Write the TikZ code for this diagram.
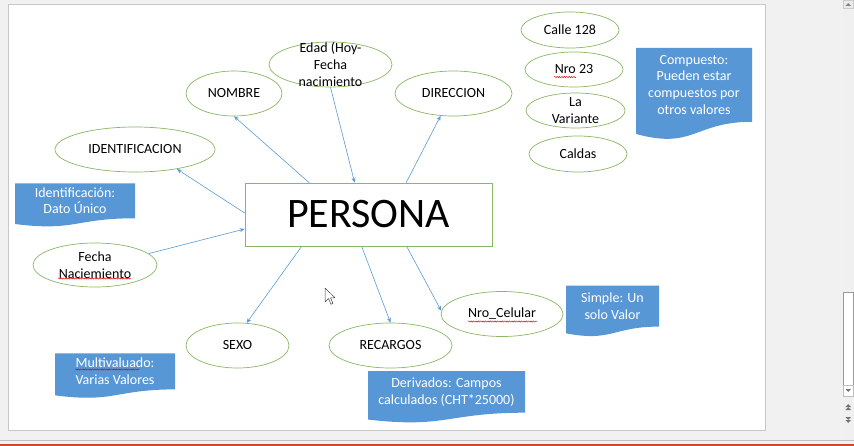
\documentclass[tikz,border=0pt]{standalone}
\usepackage{fontspec}
\setmainfont{Carlito}
\usetikzlibrary{shapes.geometric,arrows.meta,calc,decorations.pathmorphing}
\definecolor{elgreen}{HTML}{88B864}
\definecolor{arrblue}{HTML}{5B9BD5}
\definecolor{banblue}{HTML}{5897D6}
\definecolor{chrome}{HTML}{F1F1F1}
\definecolor{pporange}{HTML}{D24726}
\newcommand\docban[6]{%
  \fill[banblue] (#2,#3) -- ({#2+#4},#3) -- ({#2+#4},{#3+0.802*#5})
    .. controls ({#2+0.5*#4},{#3+0.802*#5}) and ({#2+0.5*#4},{#3+1.1075*#5}) .. (#2,{#3+0.934*#5}) -- cycle;
  \node[bantext] (#1) at ({#2+0.5*#4},{#3+0.4*#5}) {#6};
}
\begin{document}
\begin{tikzpicture}[x=1pt,y=-1pt,
  attr/.style={ellipse, draw=elgreen, line width=0.7pt, inner sep=0pt, fill=white,
               font=\fontsize{14}{16.7}\selectfont},
  atext/.style={align=center, inner sep=0pt, font=\fontsize{14}{16.9}\selectfont},
  conn/.style={draw=arrblue, line width=0.6pt, -{Stealth[length=5pt,width=4pt]}},
  bantext/.style={align=center, text=white, inner sep=0pt, font=\fontsize{14}{16.7}\selectfont},
  squig/.style={draw=red!85!black, line width=0.45pt, decorate,
                decoration={snake, amplitude=0.6pt, segment length=2.4pt}},
]
\useasboundingbox (0,0) rectangle (854,446);
% window chrome
\fill[chrome] (0,0) rectangle (854,446);
\fill[white] (8,4) rectangle (765,430);
\draw[black!22, line width=0.8pt] (8,4) rectangle (765,430);
\fill[black!6] (843,0) rectangle (854,440);
\filldraw[fill=black!8, draw=black!20, line width=0.4pt] (843,0) rectangle (853.5,8);
\fill[black!50] (845.5,6) -- (851,6) -- (848.25,3) -- cycle;
\filldraw[fill=white, draw=black!40, line width=0.5pt] (843,292) rectangle (853.5,385);
\filldraw[fill=white, draw=black!25, line width=0.4pt] (843,385) rectangle (853.5,396);
\fill[black!55] (845.5,389) -- (851,389) -- (848.25,392) -- cycle;
\fill[black!55] (845.5,407) -- (851,407) -- (848.25,404) -- cycle;
\fill[black!55] (845.5,410) -- (851,410) -- (848.25,407) -- cycle;
\fill[black!55] (845.5,417) -- (851,417) -- (848.25,420) -- cycle;
\fill[black!55] (845.5,420) -- (851,420) -- (848.25,423) -- cycle;
\draw[black!25, line width=0.6pt] (0,440.5) -- (854,440.5);
\fill[pporange] (0,443.5) rectangle (854,446);

% central entity
\node[draw=elgreen, line width=0.7pt, minimum width=247pt, minimum height=63pt, inner sep=0pt,
      font=\fontsize{42}{42}\selectfont] (persona) at (368.5,214.5) {PERSONA};

% attributes
\node[attr, minimum width=96pt, minimum height=45pt] (nombre) at (234,93.5) {NOMBRE};
\node[attr, minimum width=123pt, minimum height=45pt,
      label={[atext]center:Edad (Hoy-\\Fecha\\nacimiento}] (edad) at (330.5,64.5) {};
\node[attr, minimum width=117pt, minimum height=45pt] (direccion) at (453.5,93.5) {DIRECCION};
\node[attr, minimum width=160pt, minimum height=45pt] (ident) at (135,149.5) {IDENTIFICACION};
\node[attr, minimum width=98pt, minimum height=36pt] (calle) at (570,30) {Calle 128};
\node[attr, minimum width=98pt, minimum height=35pt] (nro) at (574,69.5) {Nro 23};
\node[attr, minimum width=99pt, minimum height=35pt,
      label={[atext]center:La\\Variante}] (variante) at (575.5,110.5) {};
\node[attr, minimum width=98pt, minimum height=36pt] (caldas) at (578,154) {Caldas};
\node[attr, minimum width=124pt, minimum height=44pt,
      label={[atext]center:Fecha\\Naciemiento}] (fecha) at (95,265) {};
\node[attr, minimum width=103pt, minimum height=45pt] (sexo) at (237.5,345.5) {SEXO};
\node[attr, minimum width=123pt, minimum height=45pt] (recargos) at (390.5,345.5) {RECARGOS};
\node[attr, minimum width=122pt, minimum height=45pt] (celular) at (502,314) {Nro\_Celular};

% connectors
\draw[conn] ($(persona.north west)+(64.5,0)$) -- (nombre.south);
\draw[conn] (edad.south) -- ($(persona.north west)+(110,0)$);
\draw[conn] ($(persona.north west)+(161.5,0)$) -- (direccion.240);
\draw[conn] ($(persona.west)+(0,-1.5)$) -- (ident.335);
\draw[conn] (fecha.12) -- ($(persona.west)+(0,14.5)$);
\draw[conn] ($(persona.south west)+(57,0)$) -- (sexo.68);
\draw[conn] ($(persona.south west)+(117,0)$) -- (recargos.north);
\draw[conn] ($(persona.south west)+(162,0)$) -- (celular.177);

% spell-check squiggles
\draw[squig] (554,77) -- (576,77);
\draw[squig] (58,278.5) -- (131,278.5);
\draw[squig] (468,321.5) -- (537,321.5);

% notes
\docban{nident}{15}{183.3}{120}{43.6}{Identificación:\\Dato Único}
\docban{ncomp}{636}{48}{116}{92}{Compuesto:\\Pueden estar\\compuestos por\\otros valores}
\docban{nmulti}{55}{353.3}{120}{45}{Multivaluado:\\Varias Valores}
\docban{nderiv}{368}{371}{157}{52}{Derivados: Campos\\calculados (CHT*25000)}
\docban{nsimple}{566}{285.7}{93}{51}{Simple: Un\\solo Valor}
\draw[squig] (75,369.5) -- (140,369.5);

% mouse pointer
\filldraw[fill=white, draw=black!75, line width=0.5pt, line join=round]
  (325,288) -- (325,302) -- (328.5,298.6) -- (331,304.3) -- (333,303.4) -- (330.5,297.8) -- (335,297.8) -- cycle;
\end{tikzpicture}
\end{document}
